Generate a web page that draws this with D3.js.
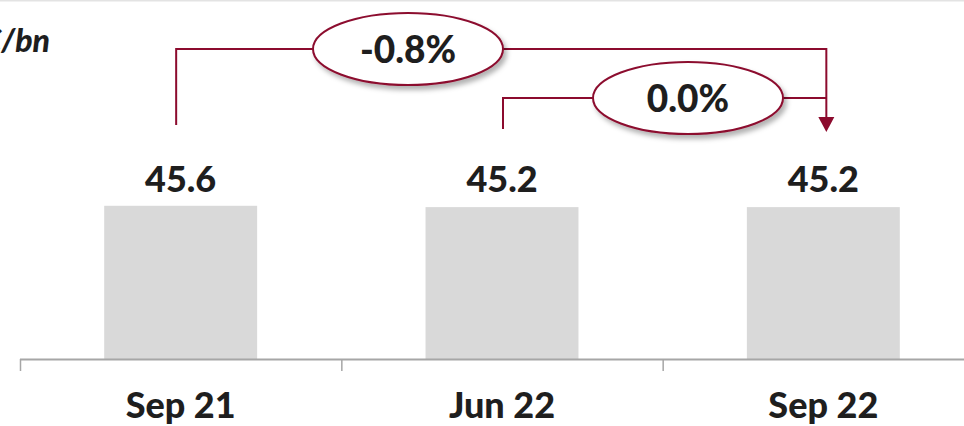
<!DOCTYPE html>
<html><head><meta charset="utf-8">
<script src="https://cdn.jsdelivr.net/npm/d3@7"></script>
<style>
html,body{margin:0;padding:0;background:#fff;}
svg{display:block;font-family:Lato,"Open Sans",sans-serif;}
</style></head>
<body>
<svg id="c" width="964" height="426"></svg>
<script>
const categories = ["Sep 21", "Jun 22", "Sep 22"];
const values = [45.6, 45.2, 45.2];
const valueLabels = ["45.6", "45.2", "45.2"];
const unitLabel = "€/bn";
const changeFrom = ["Sep 21", "Jun 22"];
const changeTo = ["Sep 22", "Sep 22"];
const changeLabels = ["-0.8%", "0.0%"];

const svg = d3.select("#c");
const W = 964, H = 426;
const red = "#8c0b2e";

const x = d3.scaleBand().domain(categories).range([20, 984]).paddingInner(0.524).paddingOuter(0.262);
const y = d3.scaleLinear().domain([0, 50]).range([359, 191]);

const defs = svg.append("defs");
const f = defs.append("filter").attr("id","sh").attr("x","-20%").attr("y","-30%").attr("width","150%").attr("height","180%");
f.append("feDropShadow").attr("dx",3).attr("dy",4).attr("stdDeviation",2.5).attr("flood-color","#000").attr("flood-opacity",0.3);

// top rule
svg.append("line").attr("x1",0).attr("x2",W).attr("y1",0.5).attr("y2",0.5).attr("stroke","#e3e3e3").attr("stroke-width",2);

// bars
svg.selectAll("rect.bar").data(categories).enter().append("rect")
  .attr("class","bar")
  .attr("x", d => x(d))
  .attr("width", x.bandwidth())
  .attr("y", (d,i) => y(values[i]))
  .attr("height", (d,i) => y(0) - y(values[i]))
  .attr("fill", "#d9d9d9");

// value labels
svg.selectAll("text.val").data(categories).enter().append("text")
  .attr("x", d => x(d) + x.bandwidth()/2)
  .attr("y", 192)
  .attr("text-anchor","middle")
  .attr("font-size", 36).attr("font-weight", 900).attr("fill","#1e1e1e")
  .text((d,i) => valueLabels[i]);

// axis
const step = x.step();
const bounds = categories.map(d => x(d) - x.paddingOuter()*step);
const axis = svg.append("g");
axis.append("line").attr("x1", 20).attr("x2", W).attr("y1", 359.5).attr("y2", 359.5).attr("stroke","#a6a6a6").attr("stroke-width",2);
axis.selectAll("line.tk").data(bounds).enter().append("line")
  .attr("x1", d => d+0.5).attr("x2", d => d+0.5).attr("y1", 359).attr("y2", 371)
  .attr("stroke","#a6a6a6").attr("stroke-width",1.5);
axis.selectAll("text.cat").data(categories).enter().append("text")
  .attr("x", d => x(d) + x.bandwidth()/2)
  .attr("y", 418)
  .attr("text-anchor","middle")
  .attr("font-size", 36).attr("font-weight", 900).attr("fill","#1e1e1e")
  .text(d => d);

// unit label
svg.append("text").attr("x", 50).attr("y", 52).attr("text-anchor","end")
  .attr("font-size", 32).attr("font-weight", 900).attr("font-style","italic").attr("fill","#1e1e1e")
  .text(unitLabel);

// brackets
const levels = [49, 98];
const starts = [125, 129];
const ellX = [408, 688];
const endX = x(changeTo[0]) + x.bandwidth()/2 + 3;
const arrowTip = 132;
changeLabels.forEach((lab, i) => {
  const sx = x(changeFrom[i]) + x.bandwidth()/2 - (i === 0 ? 4.5 : -1);
  const ex = x(changeTo[i]) + x.bandwidth()/2 + 3;
  const path = d3.path();
  path.moveTo(sx, starts[i]);
  path.lineTo(sx, levels[i]);
  path.lineTo(ex, levels[i]);
  if (i === 0) path.lineTo(ex, arrowTip - 14);
  svg.append("path").attr("d", path.toString()).attr("fill","none").attr("stroke", red).attr("stroke-width", 2);
});
// arrowhead
svg.append("path")
  .attr("d", d3.line()([[endX-8, arrowTip-15],[endX+8, arrowTip-15],[endX, arrowTip]]) + "Z")
  .attr("fill", red);

changeLabels.forEach((lab, i) => {
  svg.append("ellipse").attr("cx", ellX[i]).attr("cy", levels[i]).attr("rx", 95).attr("ry", 36)
    .attr("fill","#fff").attr("stroke", red).attr("stroke-width", 2).attr("filter","url(#sh)");
  svg.append("text").attr("x", ellX[i]).attr("y", levels[i] + 14)
    .attr("text-anchor","middle").attr("font-size", 37).attr("font-weight", 900).attr("fill","#1e1e1e")
    .text(lab);
});
</script>
</body></html>
